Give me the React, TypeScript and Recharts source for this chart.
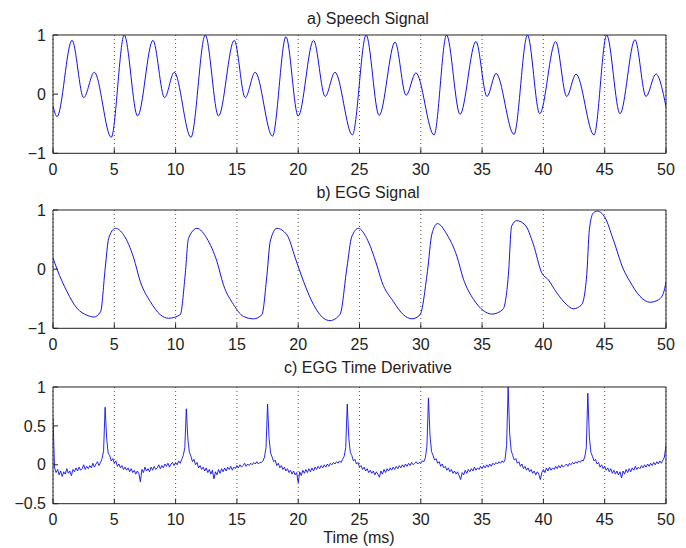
import React from 'react';
import { LineChart, Line, XAxis, YAxis, CartesianGrid, ReferenceLine } from 'recharts';

// time axis (ms), shared by the three panels
const xTicks = [0, 5, 10, 15, 20, 25, 30, 35, 40, 45, 50];

// a) speech signal, turning points
const speechTimes = [
  0, 0.33, 1.55, 2.5, 3.37, 4.75, 5.81, 6.9, 8.15, 9.1, 9.89, 11.25, 12.42, 13.5, 14.78, 15.68,
  16.49, 17.9, 19.0, 20.0, 21.25, 22.2, 23.0, 24.42, 25.54, 26.6, 27.9, 28.8, 29.6, 31.08, 32.1,
  33.2, 34.5, 35.4, 36.14, 37.6, 38.7, 39.7, 41.0, 41.9, 42.66, 44.13, 45.16, 46.25, 47.47, 48.37,
  49.18, 50
];
const speechValues = [
  -0.2, -0.38, 0.91, -0.06, 0.37, -0.73, 1.0, -0.37, 0.91, -0.06, 0.37, -0.73, 1.0, -0.37, 0.91, -0.06,
  0.37, -0.71, 0.97, -0.37, 0.91, -0.04, 0.37, -0.69, 1.0, -0.36, 0.88, -0.02, 0.36, -0.69, 1.0,
  -0.34, 0.89, -0.04, 0.35, -0.68, 1.0, -0.33, 0.89, -0.04, 0.34, -0.69, 1.0, -0.33, 0.92, -0.04,
  0.34, -0.21
];

// b) EGG signal
const eggTimes = [
  0, 0.33, 1.14, 1.95, 2.78, 3.33, 3.88, 4.26, 4.54, 5.08, 5.76, 6.58, 7.12, 7.94, 8.75, 9.43,
  10.38, 10.78, 11.05, 11.74, 12.55, 13.37, 13.91, 14.73, 15.54, 16.36, 17.04, 17.45, 17.72, 18.26,
  19.08, 19.76, 20.44, 21.25, 22.07, 22.6, 23.42, 23.97, 24.37, 24.91, 25.59, 26.41, 26.82, 27.77,
  28.58, 29.27, 29.94, 30.54, 30.9, 31.36, 32.12, 32.94, 33.48, 34.3, 35.1, 35.8, 36.7, 37.14,
  37.41, 37.82, 38.5, 39.18, 39.86, 40.4, 41.09, 41.9, 42.44, 43.12, 43.53, 43.75, 44.07, 44.4,
  45.03, 45.7, 46.52, 47.06, 47.88, 48.69, 49.37, 49.78, 50
];
const eggValues = [
  0.19, 0.0, -0.38, -0.66, -0.78, -0.81, -0.72, 0.02, 0.52, 0.69, 0.58, 0.19, -0.21, -0.55, -0.77, -0.83,
  -0.77, -0.1, 0.52, 0.69, 0.52, 0.13, -0.27, -0.6, -0.8, -0.84, -0.77, -0.1, 0.47, 0.69,
  0.58, 0.19, -0.21, -0.6, -0.83, -0.87, -0.76, 0.02, 0.55, 0.69, 0.52, 0.07, -0.21, -0.55,
  -0.77, -0.84, -0.77, -0.04, 0.59, 0.77, 0.59, 0.22, -0.17, -0.51, -0.7, -0.76, -0.68, -0.11,
  0.73, 0.82, 0.75, 0.42, -0.06, -0.18, -0.4, -0.6, -0.67, -0.6, -0.11, 0.67, 0.95, 0.98,
  0.87, 0.5, 0.0, -0.21, -0.46, -0.56, -0.52, -0.41, -0.22
];

// c) EGG time derivative, one value every 0.125 ms (one row per ms)
const derivStep = 0.125;
const derivValues = [
  0.6, -0.04, -0.1, -0.06, -0.13, -0.08, -0.15, -0.09,
  -0.12, -0.05, -0.11, -0.08, -0.14, -0.06, -0.09, -0.04,
  -0.08, -0.03, -0.07, -0.05, 0.0, -0.06, -0.02, -0.05,
  -0.01, -0.04, 0.02, -0.03, 0.01, 0.04, -0.01, 0.03,
  0.08, 0.18, 0.74, 0.34, 0.15, 0.12, 0.05, 0.08,
  0.02, 0.05, -0.02, 0.01, -0.04, -0.01, -0.06, -0.03,
  -0.07, -0.04, -0.09, -0.05, -0.1, -0.07, -0.12, -0.08,
  -0.11, -0.22, -0.06, -0.1, -0.03, -0.08, -0.05, -0.09,
  -0.03, -0.07, -0.02, -0.06, -0.04, 0.0, -0.05, -0.01,
  -0.04, 0.01, -0.02, 0.02, -0.03, 0.01, 0.03, -0.01,
  0.03, 0.0, 0.05, 0.02, 0.07, 0.12, 0.22, 0.72,
  0.33, 0.16, 0.11, 0.04, 0.07, 0.0, 0.03, -0.04,
  -0.01, -0.06, -0.03, -0.08, -0.04, -0.1, -0.06, -0.12,
  -0.07, -0.18, -0.09, -0.13, -0.06, -0.11, -0.05, -0.09,
  -0.04, -0.08, -0.03, -0.06, -0.02, -0.07, -0.03, -0.05,
  -0.01, -0.04, 0.0, -0.03, -0.01, 0.02, -0.02, 0.01,
  -0.01, 0.02, 0.0, 0.03, 0.01, 0.04, 0.01, 0.03,
  0.03, 0.05, 0.1, 0.22, 0.78, 0.34, 0.15, 0.1,
  0.04, 0.06, -0.01, 0.02, -0.04, -0.01, -0.06, -0.03,
  -0.08, -0.05, -0.1, -0.07, -0.12, -0.08, -0.13, -0.1,
  -0.23, -0.09, -0.14, -0.07, -0.11, -0.06, -0.1, -0.05,
  -0.09, -0.04, -0.08, -0.03, -0.06, -0.02, -0.05, -0.01,
  -0.04, 0.0, -0.03, 0.01, -0.02, 0.02, 0.0, 0.03,
  0.01, 0.04, 0.02, 0.05, 0.03, 0.07, 0.11, 0.22,
  0.78, 0.35, 0.16, 0.12, 0.05, 0.07, 0.01, 0.03,
  -0.03, -0.01, -0.06, -0.03, -0.08, -0.05, -0.1, -0.07,
  -0.11, -0.08, -0.13, -0.09, -0.12, -0.16, -0.08, -0.12,
  -0.06, -0.1, -0.05, -0.08, -0.04, -0.07, -0.03, -0.06,
  -0.02, -0.05, -0.01, -0.04, 0.0, -0.03, 0.01, -0.02,
  0.02, -0.01, 0.03, 0.0, 0.02, 0.04, 0.01, 0.03,
  0.02, 0.05, 0.04, 0.09, 0.24, 0.86, 0.38, 0.17,
  0.12, 0.06, 0.08, 0.02, 0.04, -0.02, 0.01, -0.04,
  -0.02, -0.07, -0.04, -0.09, -0.06, -0.11, -0.08, -0.12,
  -0.09, -0.14, -0.19, -0.1, -0.13, -0.07, -0.11, -0.06,
  -0.09, -0.05, -0.08, -0.03, -0.07, -0.04, -0.06, -0.02,
  -0.05, -0.01, -0.04, 0.0, -0.03, 0.01, -0.02, 0.02,
  0.0, 0.03, 0.01, 0.04, 0.02, 0.05, 0.03, 0.07,
  0.25, 1.0, 0.4, 0.18, 0.12, 0.06, 0.08, 0.02,
  0.04, -0.02, 0.01, -0.05, -0.02, -0.07, -0.04, -0.09,
  -0.06, -0.11, -0.08, -0.13, -0.09, -0.12, -0.19, -0.1,
  -0.06, -0.1, -0.04, -0.08, -0.03, -0.07, -0.04, -0.06,
  -0.02, -0.05, -0.01, -0.04, 0.0, -0.03, -0.01, 0.01,
  -0.02, 0.02, 0.0, 0.03, 0.01, 0.04, 0.02, 0.05,
  0.03, 0.06, 0.05, 0.1, 0.22, 0.92, 0.36, 0.16,
  0.11, 0.05, 0.07, 0.01, 0.03, -0.03, 0.0, -0.05,
  -0.02, -0.07, -0.04, -0.09, -0.05, -0.11, -0.07, -0.12,
  -0.08, -0.13, -0.09, -0.17, -0.08, -0.12, -0.06, -0.1,
  -0.05, -0.09, -0.04, -0.07, -0.02, -0.06, -0.03, -0.05,
  -0.01, -0.04, 0.0, -0.03, 0.01, -0.02, 0.02, -0.01,
  0.03, 0.0, 0.04, 0.01, 0.05, 0.02, 0.06, 0.1,
  0.25
];

const speechData = speechTimes.map((t, i) => ({ t, v: speechValues[i] }));
const eggData = eggTimes.map((t, i) => ({ t, v: eggValues[i] }));
const derivData = derivValues.map((v, i) => ({ t: i * derivStep, v }));

const FONT = '"Liberation Sans", Arial, Helvetica, sans-serif';
const AXIS = '#222';
const LINE = '#1010e8';

const fmt = (v: number) => (v < 0 ? '\u2212' + Math.abs(v) : String(v));

interface PanelProps {
  data: { t: number; v: number }[];
  top: number;
  plotHeight: number;
  yDomain: [number, number];
  yTicks: number[];
  curve?: 'monotone' | 'linear';
  lineWidth?: number;
}

function Panel({ data, top, plotHeight, yDomain, yTicks, curve = 'monotone', lineWidth = 1 }: PanelProps) {
  const marginTop = 30;
  const axisHeight = 26;
  const tickStyle = { fontSize: 16, fill: AXIS, fontFamily: FONT };

  return (
    <div style={{ position: 'absolute', left: 0, top: top - marginTop }}>
      <LineChart
        width={686}
        height={marginTop + plotHeight + axisHeight}
        data={data}
        margin={{ top: marginTop, right: 20, bottom: 0, left: 13 }}
      >
        <CartesianGrid horizontal={false} stroke="#555" strokeDasharray="1 3" />

        <XAxis
          dataKey="t"
          type="number"
          domain={[0, 50]}
          ticks={xTicks}
          height={axisHeight}
          tickSize={-5}
          tickMargin={15}
          stroke={AXIS}
          tick={tickStyle}
          allowDataOverflow
        />
        <YAxis
          type="number"
          domain={yDomain}
          ticks={yTicks}
          width={40}
          tickSize={-5}
          tickMargin={12}
          tickFormatter={fmt}
          stroke={AXIS}
          tick={tickStyle}
          allowDataOverflow
        />

        {/* close the box on top and right */}
        <ReferenceLine y={yDomain[1]} stroke={AXIS} />
        <ReferenceLine x={50} stroke={AXIS} />

        <Line
          type={curve}
          dataKey="v"
          stroke={LINE}
          strokeWidth={lineWidth}
          dot={false}
          isAnimationActive={false}
        />
      </LineChart>
    </div>
  );
}

export default function App() {
  return (
    <div
      style={{
        position: 'absolute',
        left: 0,
        top: 0,
        width: 686,
        height: 548,
        background: '#fff',
        fontFamily: FONT
      }}
    >
      <Panel data={speechData} top={35} plotHeight={118.3} yDomain={[-1, 1]} yTicks={[-1, 0, 1]} />
      <Panel data={eggData} top={210} plotHeight={118.3} yDomain={[-1, 1]} yTicks={[-1, 0, 1]} />
      <Panel
        data={derivData}
        top={387.3}
        plotHeight={116.7}
        yDomain={[-0.5, 1]}
        yTicks={[-0.5, 0, 0.5, 1]}
        curve="linear"
        lineWidth={0.9}
      />

      <svg
        width={686}
        height={548}
        style={{ position: 'absolute', left: 0, top: 0, pointerEvents: 'none' }}
      >
        <g fontFamily={FONT} fontSize={16} fill={AXIS} textAnchor="middle">
          <text x={368} y={23.5}>a) Speech Signal</text>
          <text x={368} y={197.5}>b) EGG Signal</text>
          <text x={368} y={373}>c) EGG Time Derivative</text>
          <text x={359} y={543}>Time (ms)</text>
        </g>
      </svg>
    </div>
  );
}
